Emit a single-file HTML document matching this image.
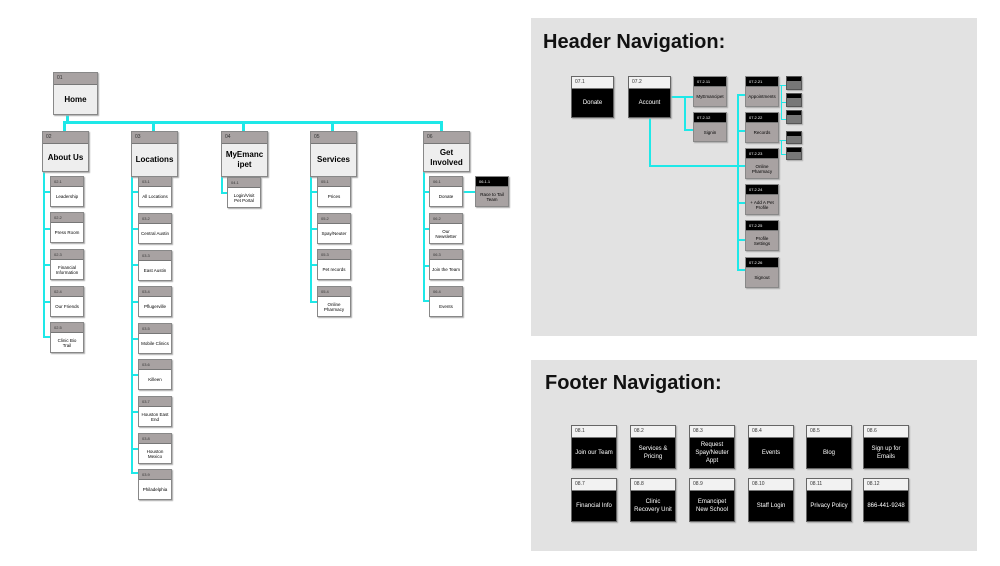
<!DOCTYPE html><html><head><style>
body{margin:0;width:1000px;height:566px;background:#fff;position:relative;overflow:hidden;font-family:"Liberation Sans",sans-serif}
div{position:absolute;box-sizing:border-box}
.n{border:1px solid #888;background:#fff;box-shadow:1px 1px 1px #aaa}
.n .h{position:static;background:#a8a2a2;height:10px;font-size:4px;padding:2px 3px;color:#333;border-bottom:1px solid #777}
.n .b{position:static;font-size:4.5px;text-align:center;display:flex;align-items:center;justify-content:center;height:calc(100% - 10px);padding:0 2px}
.L{background:#eee}.L .h{height:12px;font-size:5px}.L .b{font-size:8px;font-weight:bold;height:calc(100% - 12px);line-height:10px}
.c{background:#1ee8e8}
.k{background:#000;border-color:#666}.k .h{background:#f2f2f2;color:#333;height:12px;font-size:5px}.k .b{color:#fff;font-size:6px;height:calc(100% - 12px);line-height:8px}
.g{background:#a8a2a2}.g .h{background:#000;color:#fff}
.t{background:#777;border-color:#555}.t .h{background:#000;height:4px;padding:0;border:0}
.p{background:#e2e2e2}
.T{font-weight:bold;font-size:20px;color:#111}
</style></head><body>
<!-- connectors left -->
<div class="c" style="left:66px;top:115px;width:3px;height:8px"></div>
<div class="c" style="left:66px;top:121px;width:376px;height:3px"></div>
<div class="c" style="left:63px;top:121px;width:3px;height:10px"></div>
<div class="c" style="left:152px;top:121px;width:3px;height:10px"></div>
<div class="c" style="left:242px;top:121px;width:3px;height:10px"></div>
<div class="c" style="left:331px;top:121px;width:3px;height:10px"></div>
<div class="c" style="left:440px;top:121px;width:3px;height:10px"></div>
<div class="c" style="left:43px;top:171px;width:2px;height:166px"></div>
<div class="c" style="left:131px;top:177px;width:2px;height:296px"></div>
<div class="c" style="left:221px;top:177px;width:2px;height:16px"></div>
<div class="c" style="left:310px;top:177px;width:2px;height:125px"></div>
<div class="c" style="left:423px;top:172px;width:2px;height:130px"></div>
<div class="c" style="left:43px;top:191px;width:8px;height:2px"></div><div class="c" style="left:43px;top:228px;width:8px;height:2px"></div><div class="c" style="left:43px;top:264px;width:8px;height:2px"></div><div class="c" style="left:43px;top:301px;width:8px;height:2px"></div><div class="c" style="left:43px;top:336px;width:8px;height:2px"></div>
<div class="c" style="left:131px;top:191px;width:8px;height:2px"></div><div class="c" style="left:131px;top:228px;width:8px;height:2px"></div><div class="c" style="left:131px;top:264px;width:8px;height:2px"></div><div class="c" style="left:131px;top:301px;width:8px;height:2px"></div><div class="c" style="left:131px;top:338px;width:8px;height:2px"></div><div class="c" style="left:131px;top:374px;width:8px;height:2px"></div><div class="c" style="left:131px;top:411px;width:8px;height:2px"></div><div class="c" style="left:131px;top:448px;width:8px;height:2px"></div><div class="c" style="left:131px;top:472px;width:8px;height:2px"></div>
<div class="c" style="left:221px;top:192px;width:8px;height:2px"></div>
<div class="c" style="left:310px;top:191px;width:8px;height:2px"></div><div class="c" style="left:310px;top:228px;width:8px;height:2px"></div><div class="c" style="left:310px;top:264px;width:8px;height:2px"></div><div class="c" style="left:310px;top:301px;width:8px;height:2px"></div>
<div class="c" style="left:423px;top:191px;width:8px;height:2px"></div><div class="c" style="left:423px;top:228px;width:8px;height:2px"></div><div class="c" style="left:423px;top:265px;width:8px;height:2px"></div><div class="c" style="left:423px;top:300px;width:8px;height:2px"></div>
<div class="c" style="left:462px;top:191px;width:14px;height:2px"></div>
<!-- left nodes -->
<div class="n L" style="left:53px;top:72px;width:45px;height:43px"><div class="h">01</div><div class="b">Home</div></div>
<div class="n L" style="left:42px;top:131px;width:47px;height:41px"><div class="h">02</div><div class="b">About Us</div></div>
<div class="n L" style="left:131px;top:131px;width:47px;height:46px"><div class="h">03</div><div class="b">Locations</div></div>
<div class="n L" style="left:221px;top:131px;width:47px;height:46px"><div class="h">04</div><div class="b">MyEmanc<br>ipet</div></div>
<div class="n L" style="left:310px;top:131px;width:47px;height:46px"><div class="h">05</div><div class="b">Services</div></div>
<div class="n L" style="left:423px;top:131px;width:47px;height:41px"><div class="h">06</div><div class="b">Get<br>Involved</div></div>
<div class="n" style="left:50px;top:176px;width:34px;height:31px"><div class="h">02.1</div><div class="b">Leadership</div></div>
<div class="n" style="left:50px;top:212px;width:34px;height:31px"><div class="h">02.2</div><div class="b">Press Room</div></div>
<div class="n" style="left:50px;top:249px;width:34px;height:31px"><div class="h">02.3</div><div class="b">Financial Information</div></div>
<div class="n" style="left:50px;top:286px;width:34px;height:31px"><div class="h">02.4</div><div class="b">Our Friends</div></div>
<div class="n" style="left:50px;top:322px;width:34px;height:31px"><div class="h">02.5</div><div class="b">Clinic Bio Trail</div></div>
<div class="n" style="left:138px;top:176px;width:34px;height:31px"><div class="h">03.1</div><div class="b">All Locations</div></div>
<div class="n" style="left:138px;top:213px;width:34px;height:31px"><div class="h">03.2</div><div class="b">Central Austin</div></div>
<div class="n" style="left:138px;top:250px;width:34px;height:31px"><div class="h">03.3</div><div class="b">East Austin</div></div>
<div class="n" style="left:138px;top:286px;width:34px;height:31px"><div class="h">03.4</div><div class="b">Pflugerville</div></div>
<div class="n" style="left:138px;top:323px;width:34px;height:31px"><div class="h">03.5</div><div class="b">Mobile Clinics</div></div>
<div class="n" style="left:138px;top:359px;width:34px;height:31px"><div class="h">03.6</div><div class="b">Killeen</div></div>
<div class="n" style="left:138px;top:396px;width:34px;height:31px"><div class="h">03.7</div><div class="b">Houston East End</div></div>
<div class="n" style="left:138px;top:433px;width:34px;height:31px"><div class="h">03.8</div><div class="b">Houston Mexico</div></div>
<div class="n" style="left:138px;top:469px;width:34px;height:31px"><div class="h">03.9</div><div class="b">Philadelphia</div></div>
<div class="n" style="left:227px;top:177px;width:34px;height:31px"><div class="h">04.1</div><div class="b">Login/Visit Pet Portal</div></div>
<div class="n" style="left:317px;top:176px;width:34px;height:31px"><div class="h">05.1</div><div class="b">Prices</div></div>
<div class="n" style="left:317px;top:213px;width:34px;height:31px"><div class="h">05.2</div><div class="b">Spay/Neuter</div></div>
<div class="n" style="left:317px;top:249px;width:34px;height:31px"><div class="h">05.3</div><div class="b">Pet records</div></div>
<div class="n" style="left:317px;top:286px;width:34px;height:31px"><div class="h">05.4</div><div class="b">Online Pharmacy</div></div>
<div class="n" style="left:429px;top:176px;width:34px;height:31px"><div class="h">06.1</div><div class="b">Donate</div></div>
<div class="n" style="left:429px;top:213px;width:34px;height:31px"><div class="h">06.2</div><div class="b">Our Newsletter</div></div>
<div class="n" style="left:429px;top:249px;width:34px;height:31px"><div class="h">06.3</div><div class="b">Join the Team</div></div>
<div class="n" style="left:429px;top:286px;width:34px;height:31px"><div class="h">06.4</div><div class="b">Events</div></div>
<div class="n g" style="left:475px;top:176px;width:34px;height:31px"><div class="h">06.1.1</div><div class="b">Race to Tail Team</div></div>
<!-- header panel -->
<div class="p" style="left:531px;top:18px;width:446px;height:318px"></div>
<div class="T" style="left:543px;top:31px">Header Navigation:</div>
<div class="c" style="left:670px;top:96px;width:24px;height:2px"></div>
<div class="c" style="left:684px;top:96px;width:2px;height:34px"></div>
<div class="c" style="left:684px;top:129px;width:10px;height:2px"></div>
<div class="c" style="left:649px;top:118px;width:2px;height:49px"></div>
<div class="c" style="left:649px;top:165px;width:97px;height:2px"></div>
<div class="c" style="left:737px;top:94px;width:2px;height:177px"></div>
<div class="c" style="left:737px;top:94px;width:9px;height:2px"></div><div class="c" style="left:737px;top:130px;width:9px;height:2px"></div><div class="c" style="left:737px;top:202px;width:9px;height:2px"></div><div class="c" style="left:737px;top:239px;width:9px;height:2px"></div><div class="c" style="left:737px;top:269px;width:9px;height:2px"></div>
<div class="c" style="left:778px;top:85px;width:8px;height:1px"></div><div class="c" style="left:781px;top:85px;width:1px;height:35px"></div><div class="c" style="left:781px;top:102px;width:5px;height:1px"></div><div class="c" style="left:781px;top:119px;width:5px;height:1px"></div>
<div class="c" style="left:778px;top:140px;width:8px;height:1px"></div><div class="c" style="left:781px;top:140px;width:1px;height:15px"></div><div class="c" style="left:781px;top:154px;width:5px;height:1px"></div>
<div class="n k" style="left:571px;top:76px;width:43px;height:42px"><div class="h">07.1</div><div class="b">Donate</div></div>
<div class="n k" style="left:628px;top:76px;width:43px;height:42px"><div class="h">07.2</div><div class="b">Account</div></div>
<div class="n g" style="left:693px;top:76px;width:34px;height:31px"><div class="h">07.2.11</div><div class="b">MyEmancipet</div></div>
<div class="n g" style="left:693px;top:112px;width:34px;height:30px"><div class="h">07.2.12</div><div class="b">Signin</div></div>
<div class="n g" style="left:745px;top:76px;width:34px;height:31px"><div class="h">07.2.21</div><div class="b">Appointments</div></div>
<div class="n g" style="left:745px;top:112px;width:34px;height:31px"><div class="h">07.2.22</div><div class="b">Records</div></div>
<div class="n g" style="left:745px;top:148px;width:34px;height:31px"><div class="h">07.2.23</div><div class="b">Online Pharmacy</div></div>
<div class="n g" style="left:745px;top:184px;width:34px;height:31px"><div class="h">07.2.24</div><div class="b">+ Add A Pet Profile</div></div>
<div class="n g" style="left:745px;top:220px;width:34px;height:31px"><div class="h">07.2.25</div><div class="b">Profile Settings</div></div>
<div class="n g" style="left:745px;top:257px;width:34px;height:31px"><div class="h">07.2.26</div><div class="b">Signout</div></div>
<div class="n t" style="left:786px;top:76px;width:16px;height:14px"><div class="h"></div></div>
<div class="n t" style="left:786px;top:93px;width:16px;height:14px"><div class="h"></div></div>
<div class="n t" style="left:786px;top:110px;width:16px;height:14px"><div class="h"></div></div>
<div class="n t" style="left:786px;top:131px;width:16px;height:13px"><div class="h"></div></div>
<div class="n t" style="left:786px;top:147px;width:16px;height:13px"><div class="h"></div></div>
<!-- footer panel -->
<div class="p" style="left:531px;top:360px;width:446px;height:191px"></div>
<div class="T" style="left:545px;top:372px">Footer Navigation:</div>
<div class="n k" style="left:571px;top:425px;width:46px;height:44px"><div class="h">08.1</div><div class="b">Join our Team</div></div>
<div class="n k" style="left:630px;top:425px;width:46px;height:44px"><div class="h">08.2</div><div class="b">Services &amp; Pricing</div></div>
<div class="n k" style="left:689px;top:425px;width:46px;height:44px"><div class="h">08.3</div><div class="b">Request Spay/Neuter Appt</div></div>
<div class="n k" style="left:748px;top:425px;width:46px;height:44px"><div class="h">08.4</div><div class="b">Events</div></div>
<div class="n k" style="left:806px;top:425px;width:46px;height:44px"><div class="h">08.5</div><div class="b">Blog</div></div>
<div class="n k" style="left:863px;top:425px;width:46px;height:44px"><div class="h">08.6</div><div class="b">Sign up for Emails</div></div>
<div class="n k" style="left:571px;top:478px;width:46px;height:44px"><div class="h">08.7</div><div class="b">Financial Info</div></div>
<div class="n k" style="left:630px;top:478px;width:46px;height:44px"><div class="h">08.8</div><div class="b">Clinic Recovery Unit</div></div>
<div class="n k" style="left:689px;top:478px;width:46px;height:44px"><div class="h">08.9</div><div class="b">Emancipet New School</div></div>
<div class="n k" style="left:748px;top:478px;width:46px;height:44px"><div class="h">08.10</div><div class="b">Staff Login</div></div>
<div class="n k" style="left:806px;top:478px;width:46px;height:44px"><div class="h">08.11</div><div class="b">Privacy Policy</div></div>
<div class="n k" style="left:863px;top:478px;width:46px;height:44px"><div class="h">08.12</div><div class="b">866-441-9248</div></div>
</body></html>
